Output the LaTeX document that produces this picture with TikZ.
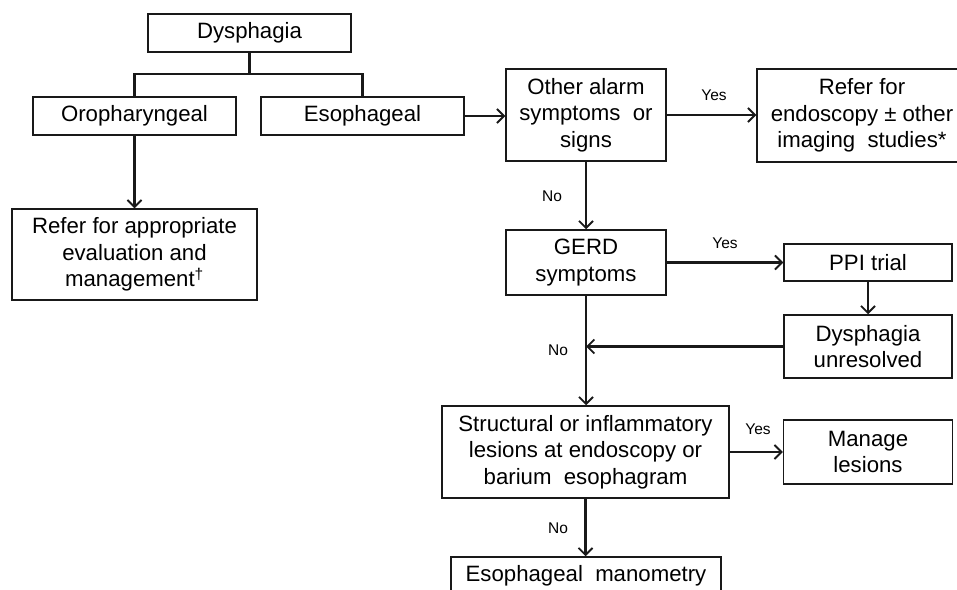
\documentclass[tikz,border=0pt]{standalone}
\usepackage{fontspec}
\setmainfont{Liberation Sans}
\usetikzlibrary{arrows.meta}
\tikzset{
  box/.style={draw=black!90, line width=1.5pt, inner sep=0pt, align=center,
    font=\fontsize{22.2}{26.5}\selectfont},
  conn/.style={line width=2.2pt, draw=black!90},
  arr/.style={conn, -{Straight Barb[length=7pt,width=14pt,line width=1.8pt]}},
  lbl/.style={inner sep=0pt, font=\fontsize{15.5}{18}\selectfont}
}
\begin{document}
\begin{tikzpicture}[x=1pt,y=-1pt]
\useasboundingbox (0,0) rectangle (957,589);
\node[box, minimum width=203pt, minimum height=38pt] (dys) at (249.5,33) {Dysphagia};
\node[box, minimum width=203pt, minimum height=38pt] (oro) at (134.5,116) {Oropharyngeal};
\node[box, minimum width=203pt, minimum height=38pt] (eso) at (362.5,116) {Esophageal};
\node[box, minimum width=245pt, minimum height=91pt] (refer) at (134.5,254.5) {Refer for appropriate\\evaluation and\\management\textsuperscript{†}};
\node[box, minimum width=160pt, minimum height=92pt] (alarm) at (586,115) {Other alarm\\symptoms\ \ or\\signs};
\node[box, minimum width=210pt, minimum height=93pt] (endo) at (862,115.5) {Refer for\\endoscopy ± other\\imaging\ \ studies*};
\node[box, minimum width=160pt, minimum height=65pt] (gerd) at (586,262.5) {GERD\\symptoms};
\node[box, minimum width=168pt, minimum height=37pt] (ppi) at (868,262.5) {PPI trial};
\node[box, minimum width=168pt, minimum height=63pt] (unres) at (868,346.5) {Dysphagia\\unresolved};
\node[box, minimum width=287pt, minimum height=92pt] (struct) at (585.5,452) {Structural or inflammatory\\lesions at endoscopy or\\barium\ \ esophagram};
\node[box, minimum width=169pt, minimum height=64pt] (manage) at (868,452) {Manage\\lesions};
\node[box, minimum width=270pt, minimum height=38pt] (mano) at (586,576) {Esophageal\ \ manometry};

\coordinate (j) at (249.5,74);
\draw[conn] (dys.south) -- (j);
\draw[conn] (oro.north) |- (j) -| (eso.north);
\draw[arr] (oro.south) -- (refer.north);
\draw[arr] (eso.east) -- (eso.east -| alarm.west);
\draw[arr] (alarm.east) -- (alarm.east -| endo.west);
\draw[arr] (alarm.south) -- (gerd.north);
\draw[arr] (gerd.east) -- (ppi.west);
\draw[arr] (ppi.south) -- (unres.north);
\coordinate (m) at (gerd.south |- unres.west);
\draw[arr] (unres.west) -- (m);
\draw[arr] (gerd.south) -- (gerd.south |- struct.north);
\draw[arr] (struct.east) -- (manage.west);
\draw[arr] (struct.south) -- (struct.south |- mano.north);

\node[lbl] (y1) at (714,95) {Yes};
\node[lbl] (n1) at (552,196) {No};
\node[lbl] (y2) at (725,243) {Yes};
\node[lbl] (n2) at (558,350) {No};
\node[lbl] (y3) at (758,429) {Yes};
\node[lbl] (n3) at (558,528) {No};
\end{tikzpicture}
\end{document}
